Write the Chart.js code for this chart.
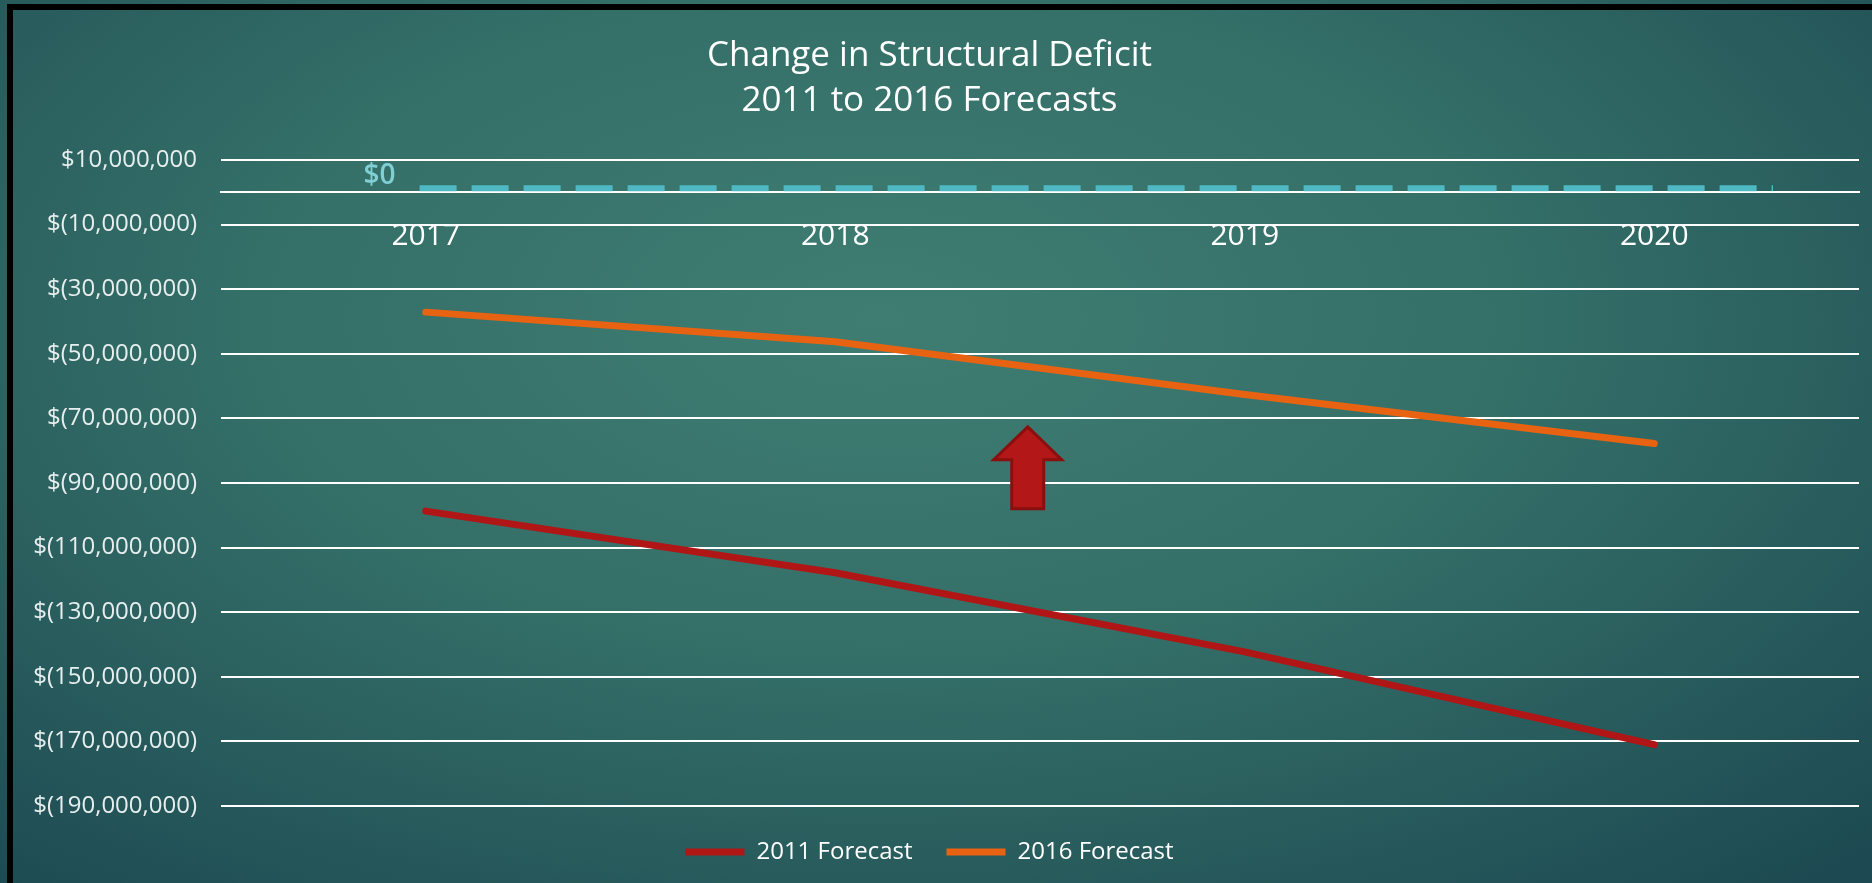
<!DOCTYPE html>
<html>
<head>
<meta charset="utf-8">
<title>Change in Structural Deficit</title>
<script src="https://cdn.jsdelivr.net/npm/chart.js@4/dist/chart.umd.min.js"></script>
<style>
html, body { margin: 0; padding: 0; width: 1872px; height: 883px; overflow: hidden; }
body { background: radial-gradient(ellipse 75% 85% at 47% 36%, #3f7d72 0%, #346f68 45%, #1d4a52 100%); }
#frame { position: absolute; left: 7px; top: 4px; right: 0; bottom: 0; border-top: 6px solid #000; border-left: 6px solid #000; }
#wrap { position: absolute; left: 0; top: 0; width: 1872px; height: 883px; }
</style>
</head>
<body>
<div id="frame"></div>
<div id="wrap"><canvas id="deficit"></canvas></div>
<script>
const years = ['2017', '2018', '2019', '2020'];
const forecast2011 = [-98700000, -117800000, -142300000, -171000000];
const forecast2016 = [-37100000, -46300000, -62600000, -77800000];
const yMin = -190000000;
const yMax = 10000000;
const yStep = 20000000;

// dashed "$0" marker and the red arrow (in data units)
const zeroLineValue = 0;
const zeroLineSpan = [-0.015, 3.29];
const arrowAt = 1.47;
const arrowRange = [-98000000, -72600000];
const arrowHeadBase = -82800000;

const money = v => v < 0
    ? '$(' + Math.abs(v).toLocaleString('en-US') + ')'
    : '$' + v.toLocaleString('en-US');

const overlay = {
    id: 'overlay',
    afterDatasetsDraw(chart) {
        const {ctx, scales: {x, y}} = chart;
        ctx.save();
        // $0 dashed line
        const y0 = y.getPixelForValue(zeroLineValue) - 4;
        const xa = x.getPixelForValue(zeroLineSpan[0]);
        const xb = x.getPixelForValue(zeroLineSpan[1]);
        ctx.strokeStyle = '#4fb9c3';
        ctx.lineWidth = 6;
        ctx.setLineDash([37, 15]);
        ctx.beginPath();
        ctx.moveTo(xa, y0);
        ctx.lineTo(xb, y0);
        ctx.stroke();
        ctx.setLineDash([]);
        ctx.fillStyle = '#7fcfd4';
        ctx.font = '600 28px "Open Sans"';
        ctx.textAlign = 'right';
        ctx.textBaseline = 'middle';
        ctx.fillText('$0', xa - 24, y0 - 12);

        // arrow
        const ax = x.getPixelForValue(arrowAt);
        const top = y.getPixelForValue(arrowRange[1]);
        const bot = y.getPixelForValue(arrowRange[0]);
        const hb = y.getPixelForValue(arrowHeadBase);
        const hw = 34, sw = 16;
        ctx.beginPath();
        ctx.moveTo(ax, top);
        ctx.lineTo(ax + hw, hb);
        ctx.lineTo(ax + sw, hb);
        ctx.lineTo(ax + sw, bot);
        ctx.lineTo(ax - sw, bot);
        ctx.lineTo(ax - sw, hb);
        ctx.lineTo(ax - hw, hb);
        ctx.closePath();
        ctx.fillStyle = '#b31717';
        ctx.fill();
        ctx.strokeStyle = '#8a0f0f';
        ctx.lineWidth = 3;
        ctx.stroke();
        ctx.restore();
    }
};

new Chart(document.getElementById('deficit'), {
    type: 'line',
    data: {
        labels: years,
        datasets: [{
            label: '2011 Forecast',
            data: forecast2011,
            borderColor: '#b01616',
            backgroundColor: '#b01616',
            borderWidth: 7,
            borderCapStyle: 'round',
            pointRadius: 0,
            tension: 0
        }, {
            label: '2016 Forecast',
            data: forecast2016,
            borderColor: '#e86311',
            backgroundColor: '#e86311',
            borderWidth: 7,
            borderCapStyle: 'round',
            pointRadius: 0,
            tension: 0
        }]
    },
    options: {
        responsive: true,
        maintainAspectRatio: false,
        animation: false,
        layout: {padding: {left: 0, right: 13, top: 0, bottom: 9}},
        plugins: {
            title: {
                display: true,
                text: ['Change in Structural Deficit', '2011 to 2016 Forecasts'],
                color: '#ffffff',
                font: {family: 'Open Sans', size: 35, weight: 'normal', lineHeight: 1.3},
                padding: {top: 33, bottom: 36}
            },
            legend: {
                position: 'bottom',
                labels: {
                    color: '#ffffff',
                    font: {family: 'Open Sans', size: 24},
                    usePointStyle: true,
                    pointStyle: 'line',
                    pointStyleWidth: 59,
                    boxHeight: 8,
                    padding: 34
                }
            },
            tooltip: {enabled: false}
        },
        scales: {
            x: {
                position: {y: 0},
                offset: true,
                grid: {display: false},
                border: {display: true, color: '#ffffff', width: 2},
                ticks: {color: '#ffffff', font: {family: 'Open Sans', size: 30}, padding: 18}
            },
            y: {
                min: yMin,
                max: yMax,
                afterFit(scale) { scale.width = 221; },
                grid: {color: '#ffffff', lineWidth: 2, drawTicks: false},
                border: {display: false},
                ticks: {
                    stepSize: yStep,
                    color: '#e6eeee',
                    font: {family: 'Open Sans', size: 24},
                    padding: 24,
                    callback: v => money(v)
                }
            }
        }
    },
    plugins: [overlay]
});
</script>
</body>
</html>
